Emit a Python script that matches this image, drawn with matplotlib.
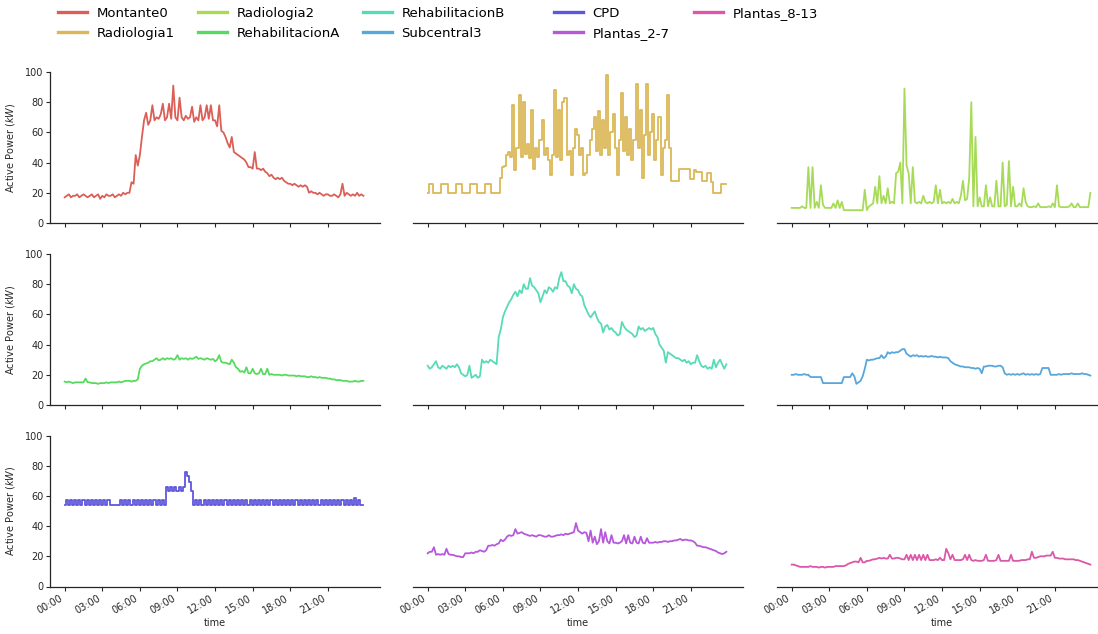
import numpy as np
import matplotlib
matplotlib.use("Agg")
import matplotlib.pyplot as plt
from matplotlib.lines import Line2D
import seaborn as sns

# ten-minute samples over one day, expressed in hours since midnight
hours = np.arange(144) / 6.0

series_names = ["Montante0", "Radiologia1", "Radiologia2",
                "RehabilitacionA", "RehabilitacionB", "Subcentral3",
                "CPD", "Plantas_2-7", "Plantas_8-13"]

tick_hours = [0, 3, 6, 9, 12, 15, 18, 21]
tick_labels = ["00:00", "03:00", "06:00", "09:00", "12:00", "15:00", "18:00", "21:00"]
y_ticks = [0, 20, 40, 60, 80, 100]

# active power in kW, one row per hour (six 10-minute readings)
montante0 = [
    17, 18, 19, 17, 18, 18,
    19, 17, 18, 19, 18, 17,
    18, 19, 17, 18, 19, 16,
    18, 17, 19, 18, 18, 19,
    17, 18, 19, 18, 20, 19,
    20, 20, 27, 26, 45, 38,
    45, 57, 68, 73, 65, 68,
    78, 68, 70, 69, 72, 79,
    68, 70, 79, 69, 91, 70,
    68, 83, 70, 68, 71, 69,
    70, 77, 67, 70, 68, 78,
    68, 70, 78, 69, 78, 68,
    68, 64, 78, 61, 60, 57,
    53, 50, 57, 47, 46, 45,
    44, 43, 42, 40, 37, 37,
    36, 47, 36, 36, 35, 36,
    34, 33, 31, 32, 30, 29,
    30, 29, 30, 28, 27, 26,
    26, 25, 26, 25, 24, 25,
    24, 25, 24, 20, 21, 20,
    20, 19, 20, 19, 18, 19,
    19, 18, 18, 19, 18, 17,
    19, 26, 18, 20, 19, 18,
    19, 18, 20, 18, 19, 18,
]

radiologia1 = [
    20, 26, 26, 20, 20, 20,
    20, 26, 26, 26, 20, 20,
    20, 20, 26, 26, 26, 20,
    20, 20, 20, 26, 26, 26,
    20, 20, 20, 20, 26, 26,
    26, 20, 20, 20, 20, 30,
    37, 38, 45, 47, 44, 78,
    35, 50, 85, 44, 80, 46,
    52, 43, 75, 36, 50, 44,
    55, 68, 45, 50, 42, 32,
    45, 88, 44, 75, 42, 80,
    83, 45, 48, 32, 50, 62,
    58, 45, 50, 32, 33, 45,
    55, 62, 70, 48, 74, 45,
    68, 50, 98, 45, 60, 72,
    50, 32, 55, 86, 48, 70,
    45, 62, 42, 55, 92, 50,
    75, 30, 58, 92, 45, 60,
    72, 42, 55, 70, 32, 50,
    55, 85, 50, 28, 28, 28,
    28, 36, 36, 36, 36, 36,
    29, 29, 35, 34, 34, 34,
    28, 28, 33, 33, 27, 20,
    20, 20, 20, 26, 26, 26,
]

radiologia2 = [
    10, 10, 10, 10, 10, 11,
    10, 10, 37, 10, 37, 10,
    14, 10, 25, 12, 10, 10,
    10, 10, 13, 10, 15, 10,
    14, 8.5, 8.5, 8.5, 8.5, 8.5,
    8.5, 8.5, 8.5, 8.5, 8.5, 22,
    8.5, 11, 12, 13, 24, 13,
    31, 13, 18, 13, 23, 13,
    14, 13, 33, 34, 40, 13,
    89, 38, 33, 13, 37, 14,
    13, 14, 13, 18, 14, 13,
    14, 13, 14, 25, 13, 22,
    13, 14, 13, 14, 13, 16,
    13, 14, 13, 18, 28, 15,
    16, 30, 80, 11, 57, 11,
    17, 11, 11, 25, 11, 17,
    11, 11, 28, 11, 11, 40,
    11, 12, 41, 11, 24, 11,
    11, 13, 11, 23, 14, 11,
    10.5, 10.5, 11, 10.5, 13, 10.5,
    10.5, 10.5, 10.5, 11, 10.5, 13,
    10.5, 25, 11, 10.5, 10.5, 10.5,
    10.5, 11, 13, 10.5, 10.5, 13,
    10.5, 10.5, 10.5, 10.5, 10.5, 20,
]

rehabilitacion_a = [
    15.5, 15, 15.5, 15, 14.5, 15,
    15, 15, 15, 15, 17.5, 15,
    15, 14.5, 14.5, 14.5, 14, 14.5,
    14.5, 14.5, 15, 14.5, 15, 15,
    15, 15, 15.5, 15, 15.5, 16,
    16, 16, 15.5, 16, 16, 17,
    24, 26, 27, 27.5, 28, 29,
    29, 30, 31, 29.5, 30, 31,
    30, 31, 30.5, 31, 30, 30.5,
    33, 30, 31, 30.5, 31, 30,
    31, 30.5, 31, 32, 30.5, 31,
    30.5, 30, 31, 30.5, 30, 30.5,
    29, 30, 33, 28.5, 28, 28,
    27.5, 27, 30, 28, 25, 24,
    22, 22.5, 21.5, 25, 21, 21,
    24, 21, 20.5, 21, 24, 20.5,
    20.5, 24, 20, 20.5, 20, 20,
    20, 20, 19.5, 20, 20, 19.5,
    19.5, 19.5, 19.5, 19, 19.5, 19,
    19, 19, 18.5, 18.5, 19, 18.5,
    18.5, 18, 18.5, 18, 18, 18,
    17.5, 17.5, 17, 17, 16.5, 16.5,
    16.5, 16, 16, 16, 15.5, 15.5,
    15.5, 16, 15.5, 15.5, 16, 16,
]

rehabilitacion_b = [
    26, 24, 25, 27, 29, 25,
    24, 26, 25, 24, 26, 25,
    26, 25, 27, 25, 21, 20,
    19, 20, 26, 18, 19, 20,
    18, 19, 30, 28, 29, 28,
    30, 29, 28, 27, 45, 50,
    58, 62, 65, 68, 70, 73,
    75, 72, 76, 74, 80, 77,
    77, 84, 79, 78, 76, 74,
    68, 72, 76, 74, 78, 77,
    75, 78, 77, 84, 88, 82,
    82, 79, 78, 74, 80, 77,
    76, 73, 72, 66, 63, 60,
    58, 60, 62, 58, 55, 54,
    48, 52, 53, 50, 51, 49,
    48, 46, 47, 55, 52, 50,
    49, 48, 47, 45, 46, 52,
    50, 51, 49, 50, 51, 50,
    51, 47, 45, 40, 38, 36,
    28, 35, 34, 33, 32, 31,
    31, 30, 29, 30, 28, 29,
    27, 28, 28, 33, 29, 26,
    25, 26, 24, 25, 24, 30,
    25, 28, 30, 27, 24, 27,
]

subcentral3 = [
    20, 20, 20.5, 20, 20, 20,
    20.5, 20, 20, 18.5, 18.5, 18.5,
    18.5, 18.5, 18.5, 14.5, 14.5, 14.5,
    14.5, 14.5, 14.5, 14.5, 14.5, 14.5,
    14.5, 18.5, 18.5, 18.5, 18.5, 21,
    19, 14, 15, 16, 19, 24,
    30, 29.5, 30, 30, 30.5, 31,
    31, 33, 31, 32, 35, 34,
    35, 34.5, 35, 35, 36, 37,
    37, 34, 33, 32, 33, 32.5,
    33, 32, 32.5, 32, 32.5, 32,
    32, 32.5, 32, 32, 31.5, 32,
    31.5, 31.5, 31.5, 31, 29, 28,
    27, 26.5, 26, 25.5, 25.5, 25,
    25, 25, 24.5, 24.5, 24, 24.5,
    24, 21, 25.5, 25.5, 26, 26,
    26, 25.5, 25.5, 26, 26, 25,
    21, 20, 20.5, 20, 20.5, 20,
    20.5, 20, 20.5, 21, 20, 20.5,
    20, 20.5, 20, 20.5, 20, 20.5,
    24.5, 24.5, 24.5, 24.5, 20, 20,
    20, 20, 20.5, 20, 20.5, 20.5,
    20.5, 20.5, 21, 20.5, 20.5, 20.5,
    20.5, 21, 20.5, 20.5, 20, 19.5,
]

cpd = [
    54, 57, 54, 57, 54, 57,
    54, 57, 54, 57, 54, 57,
    54, 57, 54, 57, 54, 57,
    54, 57, 54, 57, 54, 54,
    54, 54, 54, 57, 54, 57,
    54, 57, 54, 57, 54, 57,
    54, 57, 54, 57, 54, 57,
    54, 57, 54, 57, 54, 57,
    54, 66, 63, 66, 63, 66,
    63, 66, 63, 66, 76, 73,
    69, 63, 54, 57, 54, 57,
    54, 57, 54, 57, 54, 57,
    54, 57, 54, 57, 54, 57,
    54, 57, 54, 57, 54, 57,
    54, 57, 54, 57, 54, 57,
    54, 57, 54, 57, 54, 57,
    54, 57, 54, 57, 54, 57,
    54, 57, 54, 57, 54, 57,
    54, 57, 54, 57, 54, 57,
    54, 57, 54, 57, 54, 57,
    54, 57, 54, 57, 54, 57,
    54, 57, 54, 57, 54, 57,
    54, 57, 54, 57, 54, 57,
    54, 58.5, 54, 57, 54, 54,
]

plantas_2_7 = [
    22, 23, 23, 26, 21, 21.5,
    21, 21.5, 21, 25, 21.5, 21,
    21, 20.5, 20, 20, 19.5, 19.5,
    22, 22, 22, 22.5, 22, 23,
    23, 24, 23.5, 23, 24, 27,
    27, 27.5, 27, 28, 28.5, 31,
    30, 31, 33, 34, 33.5, 34,
    38, 35, 35.5, 36, 35, 34.5,
    34, 33.5, 34, 33.5, 33, 34,
    34, 33.5, 33, 33, 34, 33,
    33, 33.5, 34, 34, 34.5, 34,
    35, 34.5, 35, 35.5, 36, 42,
    37, 36, 35, 36, 35.5, 30,
    37, 29, 33, 28, 30, 38,
    29, 36, 30, 28.5, 34, 29,
    29, 28.5, 29, 30, 34, 28.5,
    34, 29, 28.5, 33, 29, 28.5,
    33, 29, 28.5, 32, 29, 29,
    29, 29.5, 29, 29.5, 29.5, 30,
    30, 29.5, 30, 30, 30.5, 30.5,
    31, 31.5, 30.5, 31, 31, 30.5,
    30.5, 30, 29, 27, 27, 26.5,
    26, 26, 25.5, 25, 24.5, 24,
    23.5, 22.5, 22, 21.5, 22, 23,
]

plantas_8_13 = [
    14.5, 14.5, 14, 13.5, 13, 13,
    13, 13, 13, 13.5, 13, 13,
    13, 12.5, 13, 13, 12.5, 13,
    13, 13, 13, 13.5, 13.5, 13.5,
    13.5, 13.5, 14, 15, 15.5, 16,
    16.5, 16.5, 16, 19, 16, 16,
    17, 17, 17.5, 18, 18, 18.5,
    19, 18.5, 19, 18.5, 18.5, 21,
    18.5, 18.5, 19, 19, 18.5, 18,
    18, 21, 17.5, 21, 17.5, 21,
    17.5, 21, 17.5, 21, 17.5, 21,
    17.5, 17.5, 17.5, 18, 17.5, 19,
    17.5, 17.5, 25, 22, 18, 21,
    17.5, 17.5, 17.5, 17.5, 18, 21,
    17.5, 21, 17.5, 17, 17.5, 17,
    17, 17, 17.5, 21, 17, 17,
    17, 17, 17.5, 21, 17, 17,
    17, 17, 17, 21, 17, 17,
    17, 17, 17.5, 17.5, 17.5, 18,
    18, 23, 19, 19, 19.5, 20,
    20, 20, 20.5, 20.5, 20.5, 23,
    19, 19, 18.5, 18.5, 18.5, 18,
    18, 18, 18, 18, 17.5, 17.5,
    17, 16.5, 16, 15.5, 15, 14.5,
]

series_values = [montante0, radiologia1, radiologia2,
                 rehabilitacion_a, rehabilitacion_b, subcentral3,
                 cpd, plantas_2_7, plantas_8_13]

# meters whose readings switch between discrete levels are drawn as steps
stepped = {"Radiologia1", "CPD"}

palette = sns.color_palette("hls", len(series_names))

W, H = 1098, 634
fig = plt.figure(figsize=(W / 100, H / 100), dpi=100)

col_left = [50, 413, 777]
row_top = [72, 254, 435.5]
ax_w, ax_h = 330, 151
ink = "0.15"

for i, (name, vals) in enumerate(zip(series_names, series_values)):
    r, c = divmod(i, 3)
    ax = fig.add_axes([col_left[c] / W, 1 - (row_top[r] + ax_h) / H, ax_w / W, ax_h / H])
    ax.plot(hours, vals, color=palette[i], lw=1.3,
            drawstyle="steps-mid" if name in stepped else "default")
    ax.set_xlim(-1.17, 25.16)
    ax.set_ylim(0, 100)
    for s in ("top", "right"):
        ax.spines[s].set_visible(False)
    for s in ("left", "bottom"):
        ax.spines[s].set_linewidth(0.9)
        ax.spines[s].set_color(ink)
    ax.tick_params(axis="both", length=2.6, width=0.8, colors=ink, labelsize=7, pad=2)
    ax.set_xticks(tick_hours)
    if c == 0:
        ax.set_yticks(y_ticks)
        ax.set_ylabel("Active Power ($kW$)", fontsize=7, color=ink, labelpad=6)
    else:
        ax.spines["left"].set_visible(False)
        ax.set_yticks([])
    if r == 2:
        ax.set_xticklabels(tick_labels, rotation=30, ha="right")
        ax.set_xticks([0], minor=True)
        ax.set_xticklabels(["00:00"], minor=True, rotation=30, ha="right")
        ax.tick_params(axis="x", which="minor", length=0, labelsize=7, colors=ink, pad=2.6)
        ax.set_xlabel("time", fontsize=7, color=ink, labelpad=2)
    else:
        ax.set_xticklabels([])

handles = [Line2D([], [], color=palette[i], lw=2.4) for i in range(len(series_names))]
legend_groups = [(0, 1), (2, 3), (4, 5), (6, 7), (8,)]
legend_left = [58, 198, 363, 554, 694]
for x0, grp in zip(legend_left, legend_groups):
    fig.legend([handles[k] for k in grp], [series_names[k] for k in grp],
               loc="upper left", bbox_to_anchor=(x0 / W, 1 - 7 / H),
               frameon=False, fontsize=9.5, handlelength=2.2, handletextpad=0.7,
               labelspacing=0.5, borderpad=0, borderaxespad=0)

fig.savefig("out.png", dpi=100)
